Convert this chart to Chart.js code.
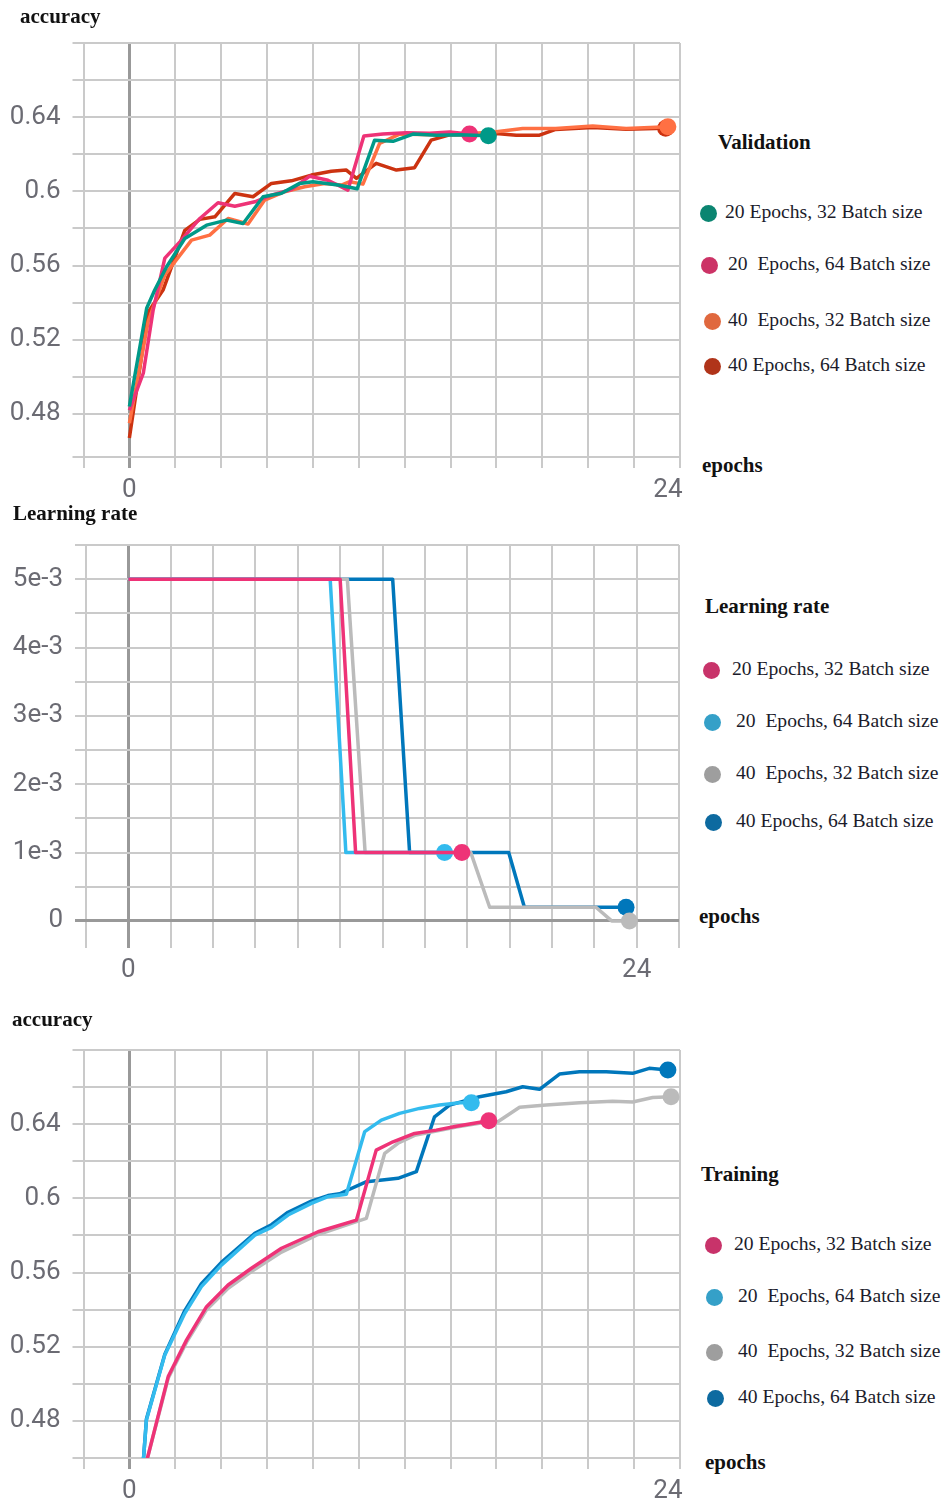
<!DOCTYPE html>
<html>
<head>
<meta charset="utf-8">
<script src="https://cdn.jsdelivr.net/npm/chart.js@4.4.1/dist/chart.umd.min.js"></script>
<style>
  body { margin: 0; background: #fff; }
  #page { position: relative; width: 943px; height: 1502px; overflow: hidden; background: #fff; }
  canvas { position: absolute; left: 0; }
  .t { position: absolute; font-family: "Liberation Serif", serif; white-space: pre; line-height: 24px; }
  .b { font-weight: bold; font-size: 21px; color: #111; }
  .lg { font-size: 19.6px; color: #1b1b2b; }
  .dot { position: absolute; width: 17px; height: 17px; border-radius: 50%; }
</style>
</head>
<body>
<div id="page">
  <canvas id="valChart" width="690" height="505" style="top:0px"></canvas>
  <canvas id="lrChart" width="690" height="495" style="top:505px"></canvas>
  <canvas id="trainChart" width="690" height="502" style="top:1000px"></canvas>
</div>
<script>
// ---- series names
const runNames = ["20 Epochs, 32 Batch size", "20  Epochs, 64 Batch size", "40  Epochs, 32 Batch size", "40 Epochs, 64 Batch size"];

// ---- validation accuracy (chart 1)
const valX_20e32 = [0, 0.77, 1.13, 1.66, 2.47, 3.44, 4.33, 5.07, 5.96, 6.78, 7.59, 8.18, 9.3, 10.15, 10.93, 11.75, 12.64, 13.7, 14.7, 16.0];
const valY_20e32 = [0.484, 0.537, 0.5468, 0.5594, 0.5746, 0.5818, 0.5845, 0.5827, 0.5971, 0.599, 0.6043, 0.6052, 0.6034, 0.6014, 0.6276, 0.627, 0.6309, 0.6303, 0.6305, 0.630];
const valX_20e64 = [0, 0.62, 1.06, 1.58, 2.25, 3.14, 3.95, 4.7, 5.59, 6.33, 7.22, 8.04, 8.85, 9.74, 10.45, 11.3, 12.34, 13.38, 14.27, 15.16];
const valY_20e64 = [0.482, 0.502, 0.536, 0.564, 0.5728, 0.5854, 0.5939, 0.592, 0.5944, 0.598, 0.601, 0.6082, 0.606, 0.6007, 0.6298, 0.631, 0.6316, 0.6313, 0.632, 0.6309];
const valX_40e32 = [0, 0.84, 1.58, 2.77, 3.58, 4.4, 5.29, 6.03, 6.92, 7.81, 8.7, 9.45, 9.82, 10.41, 11.15, 12.04, 13.38, 14.57, 16.35, 17.53, 19.0, 20.65, 22.14, 24.0];
const valY_40e32 = [0.475, 0.53, 0.555, 0.5737, 0.5764, 0.5854, 0.5824, 0.5953, 0.5998, 0.6025, 0.6043, 0.6034, 0.6052, 0.6039, 0.6258, 0.6309, 0.6305, 0.6307, 0.6321, 0.6339, 0.6339, 0.6352, 0.6339, 0.6348];
const valX_40e64 = [0, 0.84, 1.5, 2.47, 3.14, 3.81, 4.7, 5.51, 6.33, 7.22, 8.11, 9.0, 9.67, 10.12, 11.0, 11.9, 12.71, 13.45, 14.27, 15.3, 16.35, 17.24, 18.28, 19.0, 20.65, 22.14, 23.9];
const valY_40e64 = [0.467, 0.535, 0.5468, 0.579, 0.5849, 0.5863, 0.5989, 0.5971, 0.6043, 0.6057, 0.6088, 0.6109, 0.6115, 0.607, 0.6151, 0.6115, 0.6128, 0.6276, 0.6305, 0.6305, 0.6312, 0.6303, 0.6303, 0.6334, 0.6345, 0.6335, 0.634];

// ---- learning rate (chart 2)
const lrX_20e32 = [0, 10.0, 10.73, 15.75];
const lrY_20e32 = [5e-3, 5e-3, 1e-3, 1e-3];
const lrX_20e64 = [0, 9.53, 10.27, 14.93];
const lrY_20e64 = [5e-3, 5e-3, 1e-3, 1e-3];
const lrX_40e32 = [0, 10.34, 11.18, 16.17, 17.06, 22.08, 22.82, 23.66];
const lrY_40e32 = [5e-3, 5e-3, 1e-3, 1e-3, 0.2e-3, 0.2e-3, 0, 0];
const lrX_40e64 = [0, 12.48, 13.28, 17.96, 18.7, 23.5];
const lrY_40e64 = [5e-3, 5e-3, 1e-3, 1e-3, 0.2e-3, 0.2e-3];

// ---- training accuracy (chart 3)
const trX_20e32 = [0.7, 1.73, 2.55, 3.44, 4.4, 5.44, 6.78, 8.41, 10.12, 11.0, 11.75, 12.71, 13.68, 14.57, 16.02];
const trY_20e32 = [0.455, 0.5039, 0.5237, 0.5416, 0.5533, 0.5623, 0.5731, 0.582, 0.5883, 0.626, 0.6305, 0.635, 0.6368, 0.6389, 0.6418];
const trX_20e64 = [0.6, 0.76, 1.58, 2.47, 3.21, 4.1, 5.59, 6.33, 7.07, 8.11, 8.85, 9.67, 10.49, 11.23, 12.04, 12.93, 13.82, 14.72, 15.24];
const trY_20e64 = [0.455, 0.4805, 0.5156, 0.538, 0.5524, 0.564, 0.5802, 0.5844, 0.591, 0.5973, 0.6009, 0.6022, 0.636, 0.6422, 0.6458, 0.6485, 0.6503, 0.6515, 0.6515];
const trX_40e32 = [0.7, 1.73, 2.55, 3.44, 4.4, 5.44, 6.78, 8.41, 10.12, 10.56, 11.38, 11.97, 12.71, 13.68, 14.57, 15.6, 16.42, 17.39, 18.57, 20.06, 21.54, 22.43, 23.32, 24.14];
const trY_40e32 = [0.455, 0.503, 0.5225, 0.54, 0.5515, 0.5605, 0.571, 0.5805, 0.5875, 0.5892, 0.6243, 0.6297, 0.634, 0.6363, 0.6385, 0.6405, 0.6413, 0.6491, 0.6503, 0.6515, 0.6524, 0.652, 0.6544, 0.6548];
const trX_40e64 = [0.6, 0.76, 1.58, 2.47, 3.21, 4.1, 5.59, 6.33, 7.07, 8.11, 8.85, 9.37, 10.57, 11.97, 12.79, 13.6, 14.27, 15.6, 16.79, 17.53, 18.28, 19.17, 20.06, 21.25, 22.43, 23.17, 24.0];
const trY_40e64 = [0.455, 0.481, 0.516, 0.5395, 0.554, 0.5655, 0.5812, 0.5858, 0.5925, 0.5985, 0.6015, 0.6025, 0.609, 0.6108, 0.6144, 0.644, 0.6503, 0.6548, 0.6575, 0.6602, 0.6588, 0.667, 0.6683, 0.6683, 0.6674, 0.6701, 0.6692];

// ---- axis ticks
const accTicks = [0.48, 0.50, 0.52, 0.54, 0.56, 0.58, 0.60, 0.62, 0.64, 0.66, 0.68];
const accLabels = ["0.48", "0.52", "0.56", "0.6", "0.64"];
const lrTicks = [0, 0.5e-3, 1e-3, 1.5e-3, 2e-3, 2.5e-3, 3e-3, 3.5e-3, 4e-3, 4.5e-3, 5e-3, 5.5e-3];
const lrLabels = ["0", "1e-3", "2e-3", "3e-3", "4e-3", "5e-3"];
const xLabels = [0, 24];

// colours (tensorboard palette for lines, legend dots as in the picture)
const valColors = ["#009988", "#ee3377", "#ff7043", "#cc3311"];
const valLegend = ["#0b8571", "#cc3366", "#e0683e", "#b0341a"];
const runColors = ["#ee3377", "#33bbee", "#bbbbbb", "#0077bb"];
const runLegend = ["#c8336a", "#35a0c8", "#9e9e9e", "#0d6aa0"];

const GRID = "#cacaca";
const ZERO = "#999999";
const TICK_FONT = { family: "Roboto, sans-serif", size: 26 };
const TICK_COLOR = "#6b6b73";

function series(xs, ys, names, colors) {
  return xs.map((x, i) => ({
    label: names[i],
    data: x.map((v, j) => ({ x: v, y: ys[i][j] })),
    borderColor: colors[i],
    backgroundColor: colors[i],
    borderWidth: 3.5,
    borderJoinStyle: "round",
    tension: 0,
    fill: false,
    pointRadius: ctx => ctx.dataIndex === x.length - 1 ? 8.5 : 0,
    pointBorderWidth: 0,
    pointHoverRadius: 0
  }));
}

function lineChart(id, datasets, o) {
  return new Chart(document.getElementById(id), {
    type: "line",
    data: { datasets: datasets },
    options: {
      responsive: false,
      animation: false,
      layout: { padding: { top: o.top, right: o.right, left: 0, bottom: 0 } },
      plugins: { legend: { display: false }, tooltip: { enabled: false } },
      scales: {
        x: {
          type: "linear",
          min: o.xMin,
          max: o.xMax,
          afterBuildTicks: s => { s.ticks = o.xTicks.map(v => ({ value: v })); },
          afterFit: s => { s.height = o.xHeight; },
          border: { display: false },
          grid: {
            tickLength: 11,
            lineWidth: c => c.tick && c.tick.value === 0 ? 3 : 2,
            color: c => {
              if (!c.tick) return GRID;
              if (o.xHidden.includes(c.tick.value)) return "rgba(0,0,0,0)";
              return c.tick.value === 0 ? ZERO : GRID;
            }
          },
          ticks: {
            autoSkip: false, maxRotation: 0, padding: 7, color: TICK_COLOR, font: TICK_FONT,
            callback: v => xLabels.includes(v) ? String(v) : ""
          }
        },
        y: {
          min: o.yMin,
          max: o.yMax,
          afterBuildTicks: s => { s.ticks = o.yTicks.map(v => ({ value: v })); },
          afterFit: s => { s.width = o.yWidth; },
          border: { display: false },
          grid: {
            tickLength: 11,
            lineWidth: c => c.tick && Math.abs(c.tick.value) < 1e-9 ? 3 : 2,
            color: c => c.tick && Math.abs(c.tick.value) < 1e-9 ? ZERO : GRID
          },
          ticks: {
            autoSkip: false, padding: 12, color: TICK_COLOR, font: TICK_FONT,
            callback: o.yLabel
          }
        }
      }
    }
  });
}

// grid step used by the accuracy charts (tensorboard picks it from the run length)
const G = 2.045;
const accX = [];
for (let k = -1; k <= 12; k++) accX.push(k * G);
accX.push(24);
const lrX = [];
for (let k = -1; k <= 13; k++) lrX.push(k * 2);

function accLabel(v) {
  const s = String(Math.round(v * 100) / 100);
  return accLabels.includes(s) && Math.abs(v * 100 - Math.round(v * 100)) < 1e-6 ? s : "";
}
function lrLabel(v) {
  const k = Math.round(v * 2000);
  if (k % 2 !== 0) return "";
  const s = k === 0 ? "0" : (k / 2) + "e-3";
  return lrLabels.includes(s) ? s : "";
}

lineChart("valChart",
  series([valX_20e32, valX_20e64, valX_40e32, valX_40e64], [valY_20e32, valY_20e64, valY_40e32, valY_40e64], runNames, valColors),
  { top: 43, right: 10, xHeight: 48, yWidth: 83.5, xMin: -G, xMax: 12 * G, xTicks: accX, xHidden: [24],
    yMin: 0.4568, yMax: 0.68, yTicks: [0.4568].concat(accTicks), yLabel: accLabel });

lineChart("lrChart",
  series([lrX_20e32, lrX_20e64, lrX_40e32, lrX_40e64], [lrY_20e32, lrY_20e64, lrY_40e32, lrY_40e64], runNames, runColors),
  { top: 40, right: 11, xHeight: 63, yWidth: 86, xMin: -2, xMax: 26, xTicks: lrX, xHidden: [],
    yMin: -0.235e-3, yMax: 5.5e-3, yTicks: lrTicks, yLabel: lrLabel });

lineChart("trainChart",
  series([trX_20e32, trX_20e64, trX_40e32, trX_40e64], [trY_20e32, trY_20e64, trY_40e32, trY_40e64], runNames, runColors),
  { top: 50, right: 10, xHeight: 44, yWidth: 83.5, xMin: -G, xMax: 12 * G, xTicks: accX, xHidden: [24],
    yMin: 0.46, yMax: 0.68, yTicks: [0.46].concat(accTicks), yLabel: accLabel });

// ---- titles and legends (html text)
const page = document.getElementById("page");
function text(str, x, cy, cls) {
  const d = document.createElement("div");
  d.className = "t " + cls;
  d.textContent = str;
  d.style.left = x + "px";
  d.style.top = (cy - 13) + "px";
  page.appendChild(d);
}
function dot(color, cx, cy) {
  const d = document.createElement("div");
  d.className = "dot";
  d.style.background = color;
  d.style.left = (cx - 8.5) + "px";
  d.style.top = (cy - 8.5) + "px";
  page.appendChild(d);
}
function legend(title, tx, ty, colors, dotX, textX, rowsY) {
  text(title, tx, ty, "b");
  runNames.forEach((n, i) => {
    dot(colors[i], dotX[i], rowsY[i]);
    text(n, textX[i], rowsY[i], "lg");
  });
}

text("accuracy", 20, 17, "b");
legend("Validation", 718, 143, valLegend, [708, 709, 712, 712], [725, 728, 728, 728], [213, 265, 321, 366]);
text("epochs", 702, 466, "b");

text("Learning rate", 13, 514, "b");
legend("Learning rate", 705, 607, runLegend, [711, 712, 712, 713], [732, 736, 736, 736], [670, 722, 774, 822]);
text("epochs", 699, 917, "b");

text("accuracy", 12, 1020, "b");
legend("Training", 701, 1175, runLegend, [713, 714, 714, 715], [734, 738, 738, 738], [1245, 1297, 1352, 1398]);
text("epochs", 705, 1463, "b");
</script>
</body>
</html>
